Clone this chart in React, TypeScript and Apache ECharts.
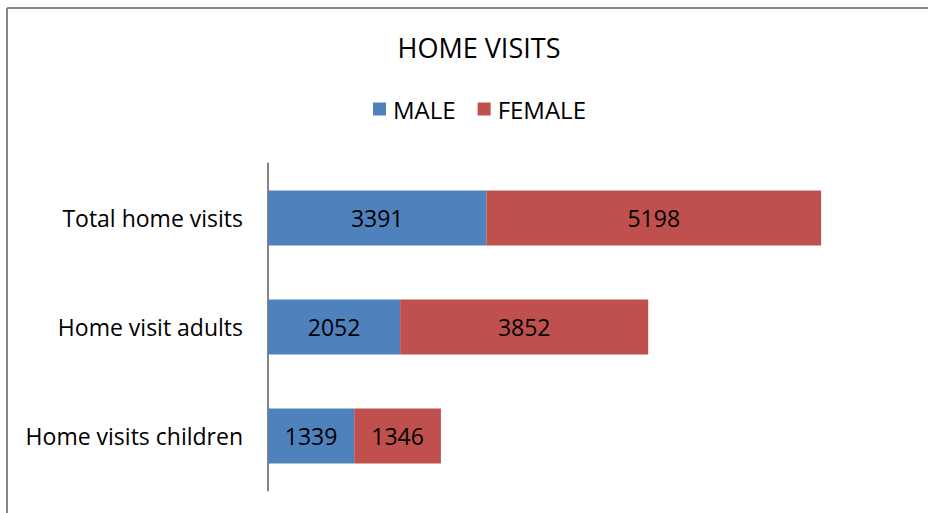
import React, { useEffect, useRef } from "react";
import * as echarts from "echarts";

const categories = ["Total home visits", "Home visit adults", "Home visits children"];
const maleValues = [3391, 2052, 1339];
const femaleValues = [5198, 3852, 1346];
const seriesNames = ["MALE", "FEMALE"];

const FONT = "'Open Sans', 'Liberation Sans', sans-serif";

export default function App() {
  const ref = useRef<HTMLDivElement>(null);
  useEffect(() => {
    if (!ref.current) return;
    const chart = echarts.init(ref.current, undefined, { renderer: "svg" });
    const labelStyle = {
      show: true,
      position: "inside" as const,
      color: "#000",
      fontSize: 23,
      fontFamily: FONT,
    };
    chart.setOption({
      animation: false,
      backgroundColor: "#fff",
      title: {
        text: "HOME VISITS",
        left: 474,
        textAlign: "center",
        top: 29,
        textStyle: { fontSize: 27, fontWeight: "normal", color: "#000", fontFamily: FONT },
      },
      legend: {
        data: seriesNames,
        left: 368,
        top: 92,
        itemWidth: 13,
        itemHeight: 13,
        itemGap: 22,
        icon: "rect",
        textStyle: { fontSize: 24, color: "#000", fontFamily: FONT, padding: [0, 0, 0, 2] },
      },
      grid: { left: 268, top: 163.5, width: 644, height: 327, containLabel: false },
      xAxis: {
        type: "value",
        min: 0,
        max: 10000,
        show: false,
      },
      yAxis: {
        type: "category",
        data: categories,
        inverse: true,
        axisLine: { show: true, lineStyle: { color: "#868686", width: 2 } },
        axisTick: { show: false },
        axisLabel: { fontSize: 23, color: "#000", fontFamily: FONT, margin: 25 },
      },
      series: [
        {
          name: seriesNames[0],
          type: "bar",
          stack: "total",
          data: maleValues,
          barWidth: 55,
          itemStyle: { color: "#4F81BD" },
          label: labelStyle,
        },
        {
          name: seriesNames[1],
          type: "bar",
          stack: "total",
          data: femaleValues,
          barWidth: 55,
          itemStyle: { color: "#C0504D" },
          label: labelStyle,
        },
      ],
      graphic: [
        { type: "line", shape: { x1: 7, y1: 8, x2: 928, y2: 8 }, style: { stroke: "#868686", lineWidth: 2 } },
        { type: "line", shape: { x1: 7, y1: 8, x2: 7, y2: 513 }, style: { stroke: "#868686", lineWidth: 2 } },
      ],
    });
    return () => chart.dispose();
  }, []);
  return (
    <div
      ref={ref}
      style={{ position: "fixed", left: 0, top: 0, width: 928, height: 513 }}
    />
  );
}
